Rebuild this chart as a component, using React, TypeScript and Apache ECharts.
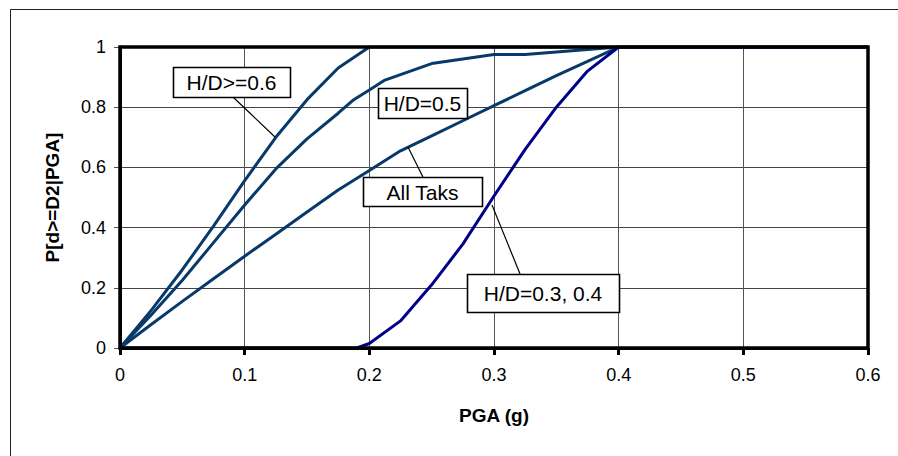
import React, { useEffect, useRef } from "react";
import * as echarts from "echarts";

// Fragility curves: P[d>=D2 | PGA] vs PGA (g)
const hd06: [number, number][] = [
  [0, 0], [0.025, 0.125], [0.05, 0.26], [0.075, 0.405], [0.1, 0.556], [0.125, 0.7],
  [0.15, 0.825], [0.175, 0.93], [0.2, 1.0], [0.6, 1.0],
];
const hd05: [number, number][] = [
  [0, 0], [0.025, 0.11], [0.05, 0.225], [0.075, 0.35], [0.1, 0.475], [0.125, 0.595],
  [0.15, 0.695], [0.175, 0.78], [0.1875, 0.825], [0.2, 0.857], [0.2125, 0.89],
  [0.25, 0.945], [0.3, 0.975], [0.325, 0.975], [0.4, 1.0], [0.6, 1.0],
];
const allTanks: [number, number][] = [
  [0, 0], [0.025, 0.078], [0.05, 0.155], [0.075, 0.23], [0.1, 0.305], [0.125, 0.378],
  [0.15, 0.452], [0.175, 0.525], [0.2, 0.59], [0.225, 0.655], [0.25, 0.705],
  [0.275, 0.755], [0.3, 0.805], [0.325, 0.855], [0.35, 0.905], [0.375, 0.952],
  [0.4, 1.0], [0.6, 1.0],
];
const hd0304: [number, number][] = [
  [0, 0], [0.19, 0], [0.2, 0.015], [0.225, 0.09], [0.25, 0.21], [0.275, 0.345],
  [0.3, 0.505], [0.325, 0.66], [0.35, 0.8], [0.375, 0.92], [0.4, 1.0], [0.6, 1.0],
];

const xTicks = [0, 0.1, 0.2, 0.3, 0.4, 0.5, 0.6];
const yTicks = [0, 0.2, 0.4, 0.6, 0.8, 1];

const xTitle = "PGA (g)";
const yTitle = "P[d>=D2|PGA]";

// Annotation callouts (anchors in data coordinates)
const annotations = [
  { text: "H/D>=0.6", at: [0.0894, 0.884], w: 117, h: 30, leader: [[0.0906, 0.834], [0.1243, 0.701]] },
  { text: "H/D=0.5", at: [0.2426, 0.814], w: 89, h: 30, leader: null },
  { text: "All Taks", at: [0.2426, 0.52], w: 119, h: 29, leader: [[0.243, 0.568], [0.231, 0.668]] },
  { text: "H/D=0.3, 0.4", at: [0.3393, 0.183], w: 152, h: 38, leader: [[0.3209, 0.246], [0.2984, 0.475]] },
];

const FONT = "'Liberation Sans', Arial, sans-serif";
const CURVE = "#073a6a";
const NAVY = "#000088";

export default function App() {
  const ref = useRef<HTMLDivElement>(null);

  useEffect(() => {
    if (!ref.current) return;
    const chart = echarts.init(ref.current, undefined, { renderer: "svg" });

    const xMin = xTicks[0];
    const xMax = xTicks[xTicks.length - 1];
    const yMin = yTicks[0];
    const yMax = yTicks[yTicks.length - 1];

    const mkLine = (name: string, data: [number, number][], color: string) => ({
      type: "line",
      name,
      data,
      showSymbol: false,
      symbol: "none",
      smooth: false,
      lineStyle: { color, width: 3 },
      z: 3,
    });

    chart.setOption({
      animation: false,
      backgroundColor: "#fff",
      textStyle: { fontFamily: FONT },
      grid: { left: 120, right: 30, top: 47, bottom: 108, containLabel: false },
      xAxis: {
        type: "value",
        min: xMin,
        max: xMax,
        interval: 0.1,
        position: "bottom",
        name: xTitle,
        nameLocation: "middle",
        nameGap: 58,
        nameTextStyle: { fontFamily: FONT, fontSize: 19, fontWeight: "bold", color: "#000" },
        axisLine: { show: true, onZero: false, lineStyle: { color: "#000", width: 3 } },
        axisTick: { show: true, length: 7, lineStyle: { color: "#000", width: 3 } },
        axisLabel: {
          fontFamily: FONT,
          fontSize: 18,
          color: "#000",
          margin: 18,
          formatter: (v: number) => String(Math.round(v * 10) / 10),
        },
        splitLine: { show: true, lineStyle: { color: "#555", width: 1 } },
      },
      yAxis: {
        type: "value",
        min: yMin,
        max: yMax,
        interval: 0.2,
        position: "left",
        name: yTitle,
        nameLocation: "middle",
        nameGap: 58,
        nameTextStyle: { fontFamily: FONT, fontSize: 19, fontWeight: "bold", color: "#000" },
        axisLine: { show: true, onZero: false, lineStyle: { color: "#000", width: 3 } },
        axisTick: { show: true, length: 6, lineStyle: { color: "#555", width: 1 } },
        axisLabel: {
          fontFamily: FONT,
          fontSize: 18,
          color: "#000",
          margin: 14,
          formatter: (v: number) => String(Math.round(v * 10) / 10),
        },
        splitLine: { show: true, lineStyle: { color: "#444", width: 1 } },
      },
      series: [
        mkLine("H/D>=0.6", hd06, CURVE),
        mkLine("H/D=0.5", hd05, CURVE),
        mkLine("All Tanks", allTanks, CURVE),
        mkLine("H/D=0.3, 0.4", hd0304, NAVY),
      ],
    });

    const toPx = (p: number[]) =>
      chart.convertToPixel({ xAxisIndex: 0, yAxisIndex: 0 }, p) as number[];

    const tl = toPx([xMin, yMax]);
    const br = toPx([xMax, yMin]);

    const graphics: any[] = [
      {
        type: "rect",
        shape: { x: 10.5, y: 9.5, width: 1000, height: 1000 },
        style: { fill: "none", stroke: "#222", lineWidth: 1 },
        silent: true,
        z: 0,
      },
      {
        type: "rect",
        shape: { x: tl[0], y: tl[1], width: br[0] - tl[0], height: br[1] - tl[1] },
        style: { fill: "none", stroke: "#000", lineWidth: 3.5 },
        silent: true,
        z: 15,
      },
    ];
    annotations.forEach((a) => {
      if (a.leader) {
        const p1 = toPx(a.leader[0]);
        const p2 = toPx(a.leader[1]);
        graphics.push({
          type: "line",
          shape: { x1: p1[0], y1: p1[1], x2: p2[0], y2: p2[1] },
          style: { stroke: "#000", lineWidth: 1.2 },
          z: 20,
        });
      }
      const c = toPx(a.at);
      graphics.push({
        type: "rect",
        shape: { x: Math.round(c[0] - a.w / 2) + 0.5, y: Math.round(c[1] - a.h / 2) + 0.5, width: a.w, height: a.h },
        style: { fill: "#fff", stroke: "#000", lineWidth: 1.6 },
        z: 21,
      });
      graphics.push({
        type: "text",
        x: c[0],
        y: c[1] + 1,
        style: {
          text: a.text,
          font: `21px ${FONT}`,
          fill: "#000",
          align: "center",
          verticalAlign: "middle",
        },
        z: 22,
      });
    });
    chart.setOption({ graphic: graphics });

    return () => chart.dispose();
  }, []);

  return (
    <div
      ref={ref}
      style={{ position: "fixed", left: 0, top: 0, width: 898, height: 456, background: "#fff" }}
    />
  );
}
